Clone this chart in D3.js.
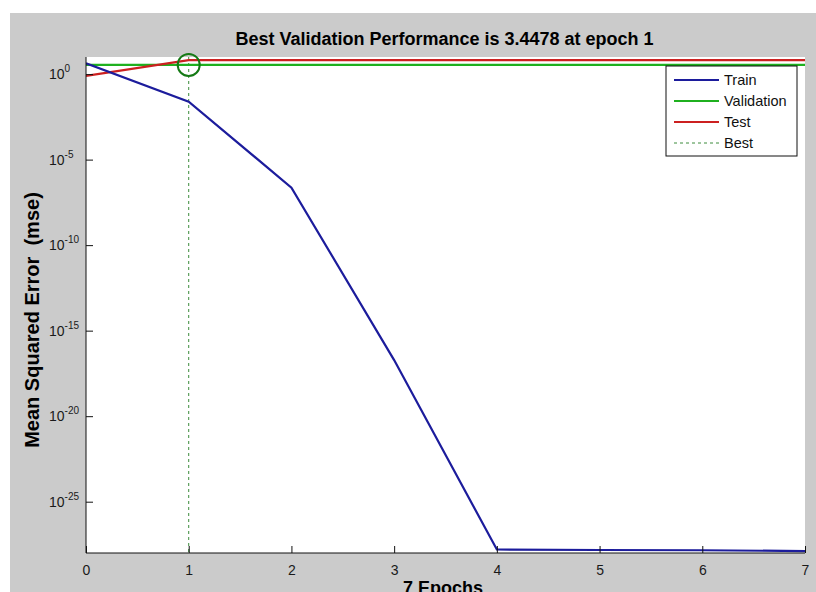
<!DOCTYPE html>
<html>
<head>
<meta charset="utf-8">
<script src="https://cdn.jsdelivr.net/npm/d3@7"></script>
<style>
  body { margin: 0; background: #ffffff; }
  svg { display: block; font-family: "Liberation Sans", Arial, sans-serif; }
</style>
</head>
<body>
<script>

// values
var epochs = [0, 1, 2, 3, 4, 5, 6, 7];
var train = [4.3, 0.0245, 2.3e-7, 1.9e-17, 1.6e-28, 1.5e-28, 1.45e-28, 1.3e-28];
var validation = [3.4478, 3.4478, 3.4478, 3.4478, 3.4478, 3.4478, 3.4478, 3.4478];
var test = [0.78, 6.5, 6.5, 6.5, 6.5, 6.5, 6.5, 6.5];
var bestEpoch = 1;
var bestValue = 3.4478;
var yTickExps = [0, -5, -10, -15, -20, -25];
var legendNames = ["Train", "Validation", "Test", "Best"];

var w = 816;
var h = 592;
var pLeft = 86, pRight = 805, pTop = 57, pBottom = 553;

var svg = d3.select("body")
    .append("svg")
    .attr("width", w)
    .attr("height", h);

// figure background
svg.append("rect")
    .attr("x", 10)
    .attr("y", 13)
    .attr("width", w - 10)
    .attr("height", h - 13)
    .attr("fill", "#cbcbcb");

svg.append("rect")
    .attr("x", pLeft)
    .attr("y", pTop)
    .attr("width", pRight - pLeft)
    .attr("height", pBottom - pTop)
    .attr("fill", "#ffffff");

var xScale = d3.scaleLinear()
    .domain([0, 7])
    .range([pLeft, pRight]);

var yScale = d3.scaleLog()
    .domain([1e-28, 1e1])
    .range([pBottom, pTop]);

svg.append("clipPath")
    .attr("id", "plotclip")
    .append("rect")
    .attr("x", pLeft)
    .attr("y", pTop - 2)
    .attr("width", pRight - pLeft + 2)
    .attr("height", pBottom - pTop + 2);

var line = d3.line()
    .x(function(d) { return xScale(d[0]); })
    .y(function(d) { return yScale(d[1]); });

function pairs(vals) {
    return epochs.map(function(e, i) { return [e, vals[i]]; });
}

var plot = svg.append("g").attr("clip-path", "url(#plotclip)");

// best epoch marker
plot.append("line")
    .attr("x1", xScale(bestEpoch))
    .attr("x2", xScale(bestEpoch))
    .attr("y1", pTop)
    .attr("y2", pBottom)
    .attr("stroke", "#3c8c3c")
    .attr("stroke-width", 1)
    .attr("stroke-dasharray", "3,3");

var series = [
    {name: "Validation", vals: validation, color: "#1fb01f"},
    {name: "Test", vals: test, color: "#cc2020"},
    {name: "Train", vals: train, color: "#1c1c9c"}
];

series.forEach(function(s) {
    plot.append("path")
        .datum(pairs(s.vals))
        .attr("d", line)
        .attr("fill", "none")
        .attr("stroke", s.color)
        .attr("stroke-width", 2.2);
});

svg.append("circle")
    .attr("cx", xScale(bestEpoch))
    .attr("cy", yScale(bestValue))
    .attr("r", 11)
    .attr("fill", "none")
    .attr("stroke", "#157a15")
    .attr("stroke-width", 2);

// axes, MATLAB style: ticks point inward, no box
var xAxis = d3.axisBottom(xScale)
    .tickValues(epochs)
    .tickSize(-7)
    .tickPadding(12)
    .tickFormat(d3.format("d"));

var gx = svg.append("g")
    .attr("transform", "translate(0," + pBottom + ")")
    .call(xAxis);
gx.attr("font-size", 14).attr("font-family", "Liberation Sans, Arial, sans-serif");
gx.select(".domain").attr("stroke", "#111").attr("d", "M" + pLeft + ",0H" + pRight);
gx.selectAll(".tick line").attr("stroke", "#111");
gx.selectAll(".tick text").attr("fill", "#1a1a1a");

var yAxis = d3.axisLeft(yScale)
    .tickValues(yTickExps.map(function(e) { return Math.pow(10, e); }))
    .tickSize(-7)
    .tickFormat("");

var gy = svg.append("g")
    .attr("transform", "translate(" + pLeft + ",0)")
    .call(yAxis);
gy.select(".domain").attr("stroke", "#111").attr("d", "M0," + pTop + "V" + pBottom);
gy.selectAll(".tick line").attr("stroke", "#111");

// tick labels as 10 with superscript exponent
var ylabels = svg.selectAll(".ylab")
    .data(yTickExps)
    .enter()
    .append("text")
    .attr("class", "ylab")
    .attr("x", 49)
    .attr("y", function(d) { return yScale(Math.pow(10, d)) + 5; })
    .attr("fill", "#1a1a1a")
    .attr("font-size", 14);
ylabels.append("tspan").text("10");
ylabels.append("tspan")
    .attr("dy", -7)
    .attr("font-size", 10)
    .text(function(d) { return d; });

// titles
svg.append("text")
    .attr("x", (pLeft + pRight) / 2 - 1)
    .attr("y", 45)
    .attr("text-anchor", "middle")
    .attr("font-size", 18)
    .attr("font-weight", "bold")
    .attr("fill", "#000")
    .text("Best Validation Performance is " + bestValue + " at epoch " + bestEpoch);

svg.append("text")
    .attr("x", 443)
    .attr("y", 594)
    .attr("text-anchor", "middle")
    .attr("font-size", 18)
    .attr("font-weight", "bold")
    .attr("fill", "#000")
    .text(epochs[epochs.length - 1] + " Epochs");

svg.append("text")
    .attr("transform", "translate(39,320) rotate(-90)")
    .attr("text-anchor", "middle")
    .attr("font-size", 20)
    .attr("font-weight", "bold")
    .attr("fill", "#000")
    .style("white-space", "pre")
    .text("Mean Squared Error  (mse)");

// legend
var legend = svg.append("g").attr("transform", "translate(666,66)");
legend.append("rect")
    .attr("width", 131)
    .attr("height", 90)
    .attr("fill", "#fff")
    .attr("stroke", "#111")
    .attr("stroke-width", 1);

var legendColors = ["#1c1c9c", "#1fb01f", "#cc2020", "#3c8c3c"];
var items = legend.selectAll(".item")
    .data(legendNames)
    .enter()
    .append("g")
    .attr("class", "item")
    .attr("transform", function(d, i) { return "translate(0," + (14 + i * 21) + ")"; });

items.append("line")
    .attr("x1", 8)
    .attr("x2", 53)
    .attr("stroke", function(d, i) { return legendColors[i]; })
    .attr("stroke-width", function(d, i) { return i == 3 ? 1 : 2.2; })
    .attr("stroke-dasharray", function(d, i) { return i == 3 ? "3,3" : null; });

items.append("text")
    .attr("x", 58)
    .attr("dy", "0.36em")
    .attr("font-size", 14.5)
    .attr("fill", "#111")
    .text(function(d) { return d; });

</script>
</body>
</html>
